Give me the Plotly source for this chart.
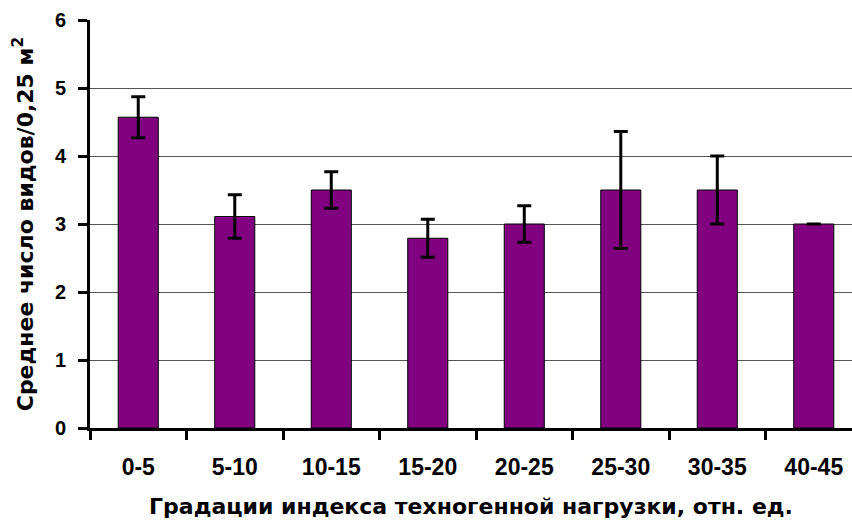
import plotly.graph_objects as go

# Gradations of the technogenic load index and mean species counts
categories = ["0-5", "5-10", "10-15", "15-20", "20-25", "25-30", "30-35", "40-45"]
mean_species = [4.57, 3.11, 3.5, 2.79, 3.0, 3.5, 3.5, 3.0]
error_values = [0.30, 0.32, 0.27, 0.28, 0.27, 0.86, 0.50, float("nan")]
y_ticks = [0, 1, 2, 3, 4, 5, 6]

FONT = "Arial, Liberation Sans, sans-serif"
TITLE_FONT = "DejaVu Sans, Arial, sans-serif"

fig = go.Figure(
    go.Bar(
        x=categories,
        y=mean_species,
        width=0.415,
        marker=dict(color="#800080", line=dict(color="#000000", width=1)),
        error_y=dict(
            type="data",
            array=error_values,
            visible=True,
            color="#000000",
            thickness=3,
            width=7,
        ),
    )
)

fig.update_layout(
    width=852,
    height=522,
    margin=dict(l=90, r=0, t=20, b=94),
    paper_bgcolor="white",
    plot_bgcolor="white",
    showlegend=False,
    font=dict(family=FONT, color="#000000"),
    xaxis=dict(
        type="category",
        range=[-0.5, 7.396],
        tickson="boundaries",
        ticks="outside",
        ticklen=9,
        tickwidth=3,
        tickcolor="#000000",
        showline=True,
        linecolor="#000000",
        linewidth=3,
        showgrid=False,
        tickfont=dict(size=23, family=FONT, color="#000000", weight="bold"),
        ticklabelstandoff=16,
        title=dict(
            text="<b>Градации индекса техногенной нагрузки, отн. ед.</b>",
            font=dict(size=22, family=TITLE_FONT, color="#000000"),
            standoff=21,
        ),
    ),
    yaxis=dict(
        range=[0, 6],
        tickvals=y_ticks,
        ticks="outside",
        ticklen=9,
        tickwidth=3,
        tickcolor="#000000",
        showline=True,
        linecolor="#000000",
        linewidth=3,
        showgrid=True,
        gridcolor="#555555",
        gridwidth=1,
        zeroline=False,
        tickfont=dict(size=20, family=FONT, color="#000000", weight="bold"),
        ticklabelstandoff=8,
        title=dict(
            text="<b>Среднее число видов/0,25 м<sup>2</sup></b>",
            font=dict(size=22, family=TITLE_FONT, color="#000000"),
            standoff=16,
        ),
    ),
)

fig.write_html("out.html")
